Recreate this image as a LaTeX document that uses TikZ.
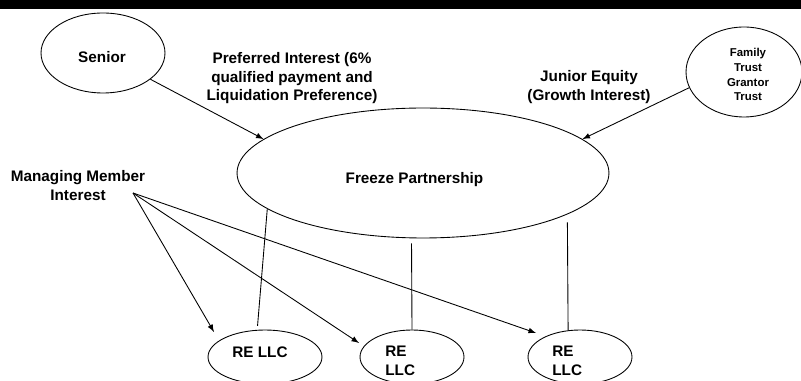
\documentclass[tikz,border=0pt]{standalone}
\usepackage{fontspec}
\setmainfont{Liberation Sans}
\usepackage{tikz}
\usetikzlibrary{
	arrows,
	positioning,
	shapes.geometric
}
\tikzstyle{every picture}+=[>=latex]

\begin{document}
\begin{tikzpicture}[x=0.02cm, y=-0.02cm,
	oval/.style={draw, ellipse, inner sep=0pt, line width=0.5pt},
	txt/.style={font=\bfseries\fontsize{8.7}{10.5}\selectfont, align=center, inner sep=0pt},
	smalltxt/.style={font=\bfseries\fontsize{6.5}{8.5}\selectfont, align=center, inner sep=0pt},
	link/.style={line width=0.5pt}]

	\useasboundingbox (0,0) rectangle (801,381);
	\clip (0,0) rectangle (801,381);

	% Top bar
		\fill[black] (0,0) rectangle (801,9);

	% Partners
		% Senior
			\node[oval, minimum width=2.48cm, minimum height=1.6cm] (sen) at (103,53) {};
			\node[txt] (senText) at (102,57.5) {Senior};
		% Family trust
			\node[oval, minimum width=2.32cm, minimum height=1.8cm] (fam) at (744,72) {};
			\node[smalltxt] (famText) at (748,74.5) {Family\\Trust\\Grantor\\Trust};
		% Partnership
			\node[oval, minimum width=7.44cm, minimum height=2.6cm] (fp) at (423,173) {};
			\node[txt] (fpText) at (414.5,180) {Freeze Partnership};

	% Interests
		\node[txt] (prefText) at (292,78.5) {Preferred Interest (6\%\\qualified payment and\\Liquidation Preference)};
		\node[txt] (junText) at (589,87) {Junior Equity\\(Growth Interest)};
		\node[txt] (mmText) at (78,185.5) {Managing Member\\Interest};

		\draw[->, link] (sen.-29) -- (fp.168);
		\draw[->, link] (fam.-164) -- (fp.12);

	% Real estate companies
		\node[oval, minimum width=2.28cm, minimum height=1.08cm] (re1) at (265,357) {};
		\node[oval, minimum width=2.08cm, minimum height=1.08cm] (re2) at (412,357) {};
		\node[oval, minimum width=2.08cm, minimum height=1.08cm] (re3) at (580,357) {};
		\node[txt] (re1Text) at (260,352) {RE LLC};
		\node[txt, align=left, anchor=west] (re2Text) at (385,361) {RE\\LLC};
		\node[txt, align=left, anchor=west] (re3Text) at (552,361) {RE\\LLC};

		% Ownership lines
		\draw[link, shorten <=0.08cm] (re1.106) -- (fp.-167);
		\draw[link, shorten >=0.1cm] (re2.north) -- (fp.-100);
		\draw[link, shorten >=0.16cm] (re3.114) -- (fp.-16);

		% Managing member arrows
		\coordinate (mm) at (133,193);
		\coordinate (mm1) at (214,332);
		\coordinate (mm2) at (359,343);
		\coordinate (mm3) at (536,333);
		\foreach \tip in {mm1,mm2,mm3} {
			\draw[->, link] (mm) -- (\tip);
		}
\end{tikzpicture}
\end{document}
